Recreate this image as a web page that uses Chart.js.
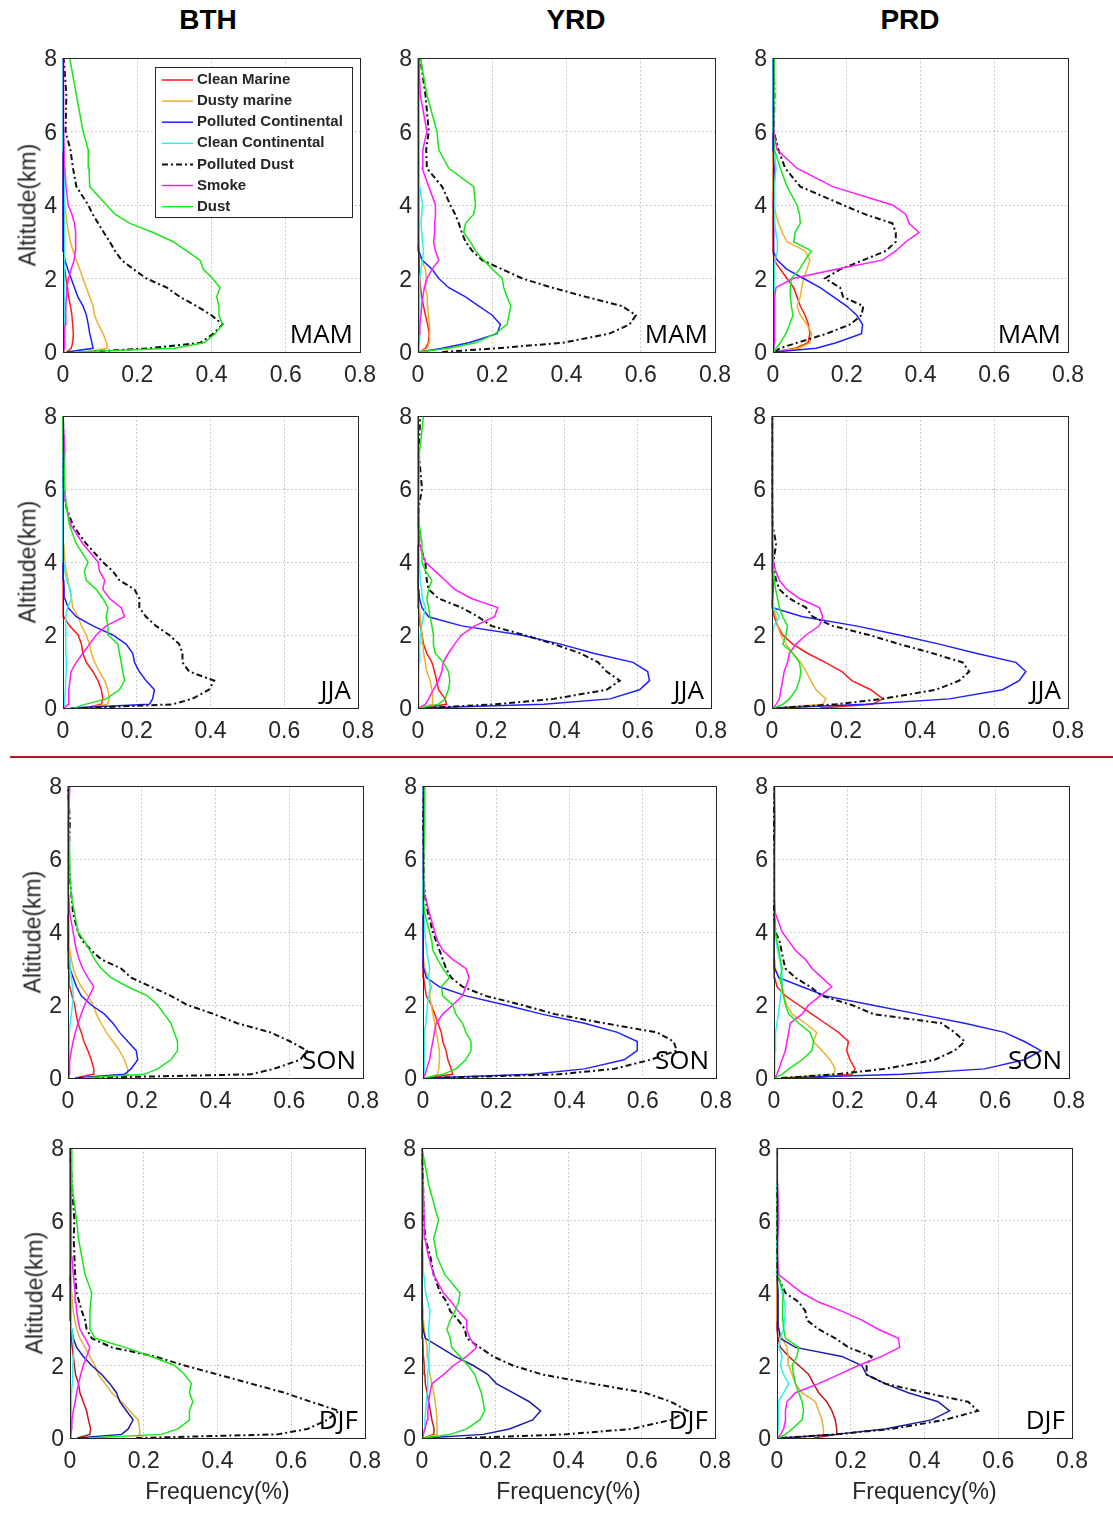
<!DOCTYPE html>
<html>
<head>
<meta charset="utf-8">
<title>Aerosol subtype vertical frequency</title>
<script src="https://cdn.jsdelivr.net/npm/chart.js@4.4.0/dist/chart.umd.min.js"></script>
<style>
  body { margin: 0; background: #fff; width: 1113px; height: 1517px; position: relative; overflow: hidden;
         font-family: "Liberation Sans", Arial, sans-serif; }
  canvas { position: absolute; }
  .title { position: absolute; font-weight: bold; font-size: 28px; color: #000; transform: translate(-50%, -50%); }
  .ylab { position: absolute; font-size: 23px; color: #262626; white-space: nowrap;
          transform: translate(-50%, -50%) rotate(-90deg); }
  .xlab { position: absolute; font-size: 23px; color: #262626; white-space: nowrap; transform: translate(-50%, -50%); }
  .divider { position: absolute; left: 10px; top: 756px; width: 1103px; height: 2px; background: #C0142E; }
</style>
</head>
<body>
<div id="page"></div>
<script>
const ALT = [0, 0.1, 0.25, 0.5, 0.75, 1, 1.25, 1.5, 1.75, 2, 2.25, 2.5, 2.75, 3, 3.25, 3.5, 3.75, 4, 4.5, 5, 5.5, 6, 7, 8];
const TYPES = ['Clean Marine', 'Dusty marine', 'Polluted Continental', 'Clean Continental', 'Polluted Dust', 'Smoke', 'Dust'];
const REGIONS = ['BTH', 'YRD', 'PRD'];
const SEASONS = ['MAM', 'JJA', 'SON', 'DJF'];
const X_TICKS = [0, 0.2, 0.4, 0.6, 0.8];
const Y_TICKS = [0, 2, 4, 6, 8];

// frequency (%) at each ALT level, one row per entry of TYPES
const BTH_MAM = [
  [0.01,0.022,0.026,0.028,0.026,0.024,0.02,0.015,0.012,0.008,0.005,0.003,0.002,0.001,0,0,0,0,0,0,0,0,0,0],
  [0.06,0.12,0.117,0.108,0.095,0.085,0.081,0.072,0.063,0.054,0.045,0.036,0.027,0.02,0.015,0.011,0.008,0.005,0.002,0.001,0,0,0,0],
  [0.01,0.081,0.078,0.072,0.068,0.063,0.054,0.04,0.031,0.022,0.013,0.005,0.002,0.001,0,0,0,0,0,0,0,0,0,0],
  [0.002,0.003,0.003,0.003,0.003,0.003,0.003,0.003,0.003,0.003,0.003,0.004,0.004,0.004,0.004,0.004,0.004,0.004,0.004,0.003,0.001,0,0,0],
  [0.06,0.23,0.37,0.405,0.43,0.40,0.36,0.315,0.28,0.225,0.19,0.158,0.14,0.126,0.11,0.095,0.08,0.068,0.036,0.027,0.02,0.007,0.009,0.002],
  [0.002,0.003,0.004,0.005,0.006,0.007,0.008,0.009,0.01,0.015,0.022,0.03,0.033,0.034,0.034,0.031,0.024,0.014,0.008,0.005,0.003,0.002,0.002,0.001],
  [0.03,0.3,0.38,0.41,0.43,0.42,0.42,0.414,0.423,0.403,0.378,0.369,0.333,0.297,0.243,0.18,0.14,0.117,0.072,0.07,0.068,0.054,0.036,0.018]
];
const YRD_MAM = [
  [0.005,0.02,0.028,0.03,0.026,0.02,0.015,0.01,0.007,0.005,0.004,0.003,0.002,0,0,0,0,0,0,0,0,0,0,0],
  [0.005,0.025,0.03,0.032,0.03,0.028,0.026,0.025,0.02,0.022,0.02,0.01,0.003,0.001,0,0,0,0,0,0,0,0,0,0],
  [0.005,0.065,0.137,0.213,0.222,0.2,0.164,0.128,0.083,0.056,0.038,0.011,0.002,0.002,0.002,0.002,0.002,0.002,0.002,0.002,0.002,0.002,0.002,0],
  [0.002,0.002,0.003,0.003,0.004,0.004,0.005,0.005,0.005,0.005,0.008,0.012,0.015,0.012,0.01,0.008,0.01,0.012,0.005,0.004,0.003,0.003,0.004,0],
  [0.065,0.21,0.39,0.515,0.57,0.587,0.55,0.452,0.362,0.281,0.227,0.173,0.146,0.128,0.118,0.11,0.1,0.087,0.065,0.024,0.022,0.029,0.02,0.006],
  [0.001,0.001,0.002,0.003,0.005,0.008,0.01,0.013,0.017,0.024,0.038,0.056,0.047,0.042,0.045,0.045,0.047,0.047,0.029,0.011,0.013,0.024,0.006,0.002],
  [0.005,0.083,0.155,0.209,0.24,0.245,0.25,0.24,0.231,0.227,0.2,0.177,0.155,0.141,0.123,0.128,0.15,0.155,0.15,0.083,0.056,0.051,0.024,0.006]
];
const PRD_MAM = [
  [0.002,0.06,0.095,0.1,0.096,0.087,0.074,0.065,0.056,0.038,0.02,0.003,0,0,0,0,0,0,0,0,0,0,0,0],
  [0.002,0.07,0.1,0.105,0.092,0.074,0.065,0.074,0.078,0.083,0.092,0.1,0.087,0.038,0.025,0.015,0.008,0.003,0,0,0,0,0,0],
  [0.005,0.117,0.171,0.24,0.243,0.227,0.2,0.164,0.128,0.083,0.038,0.011,0.001,0.001,0.002,0.002,0.002,0.002,0.003,0.003,0.001,0,0,0],
  [0.002,0.003,0.003,0.003,0.003,0.003,0.003,0.004,0.004,0.003,0.004,0.006,0.012,0.012,0.008,0.005,0.004,0.004,0.004,0.008,0.004,0.002,0.001,0],
  [0.005,0.018,0.065,0.146,0.209,0.24,0.245,0.19,0.182,0.141,0.182,0.245,0.306,0.333,0.333,0.324,0.249,0.19,0.074,0.033,0.015,0.002,0.004,0.002],
  [0.001,0.002,0.003,0.004,0.004,0.005,0.005,0.005,0.008,0.054,0.171,0.297,0.333,0.36,0.396,0.369,0.36,0.324,0.162,0.065,0.011,0.002,0.002,0.002],
  [0.003,0.008,0.02,0.035,0.045,0.054,0.05,0.047,0.047,0.05,0.072,0.087,0.104,0.056,0.06,0.074,0.072,0.065,0.038,0.02,0.004,0.001,0.003,0.003]
];
const BTH_JJA = [
  [0.06,0.104,0.108,0.104,0.095,0.081,0.063,0.054,0.05,0.041,0.018,0.002,0.001,0.001,0.001,0,0,0,0,0,0,0,0,0],
  [0.06,0.12,0.126,0.122,0.113,0.099,0.086,0.077,0.072,0.063,0.05,0.041,0.027,0.023,0.018,0.014,0.009,0.005,0.002,0,0,0,0,0],
  [0.02,0.234,0.243,0.248,0.225,0.207,0.194,0.189,0.171,0.135,0.081,0.036,0.014,0.005,0.003,0.002,0.001,0,0,0,0,0,0,0],
  [0.002,0.004,0.005,0.006,0.007,0.009,0.009,0.008,0.008,0.007,0.007,0.008,0.012,0.023,0.02,0.01,0.005,0.002,0.001,0,0,0,0,0],
  [0.05,0.297,0.35,0.396,0.41,0.342,0.324,0.324,0.315,0.288,0.252,0.225,0.207,0.207,0.194,0.153,0.135,0.108,0.063,0.027,0.009,0.002,0.002,0],
  [0.003,0.014,0.015,0.016,0.019,0.022,0.036,0.054,0.072,0.09,0.117,0.167,0.158,0.126,0.108,0.113,0.099,0.095,0.054,0.022,0.009,0.002,0.005,0],
  [0.03,0.06,0.117,0.153,0.167,0.162,0.158,0.153,0.149,0.122,0.122,0.117,0.122,0.108,0.09,0.063,0.058,0.068,0.036,0.018,0.009,0.005,0.002,0]
];
const YRD_JJA = [
  [0.01,0.078,0.074,0.056,0.051,0.045,0.038,0.024,0.015,0.011,0.006,0.004,0.002,0.001,0,0,0,0,0,0,0,0,0,0],
  [0.005,0.04,0.04,0.038,0.033,0.024,0.02,0.015,0.013,0.011,0.009,0.006,0.004,0.003,0.002,0.001,0,0,0,0,0,0,0,0],
  [0.01,0.344,0.524,0.605,0.632,0.627,0.587,0.479,0.389,0.281,0.119,0.029,0.011,0.004,0.002,0.002,0,0,0,0,0,0,0,0],
  [0.001,0.002,0.002,0.002,0.002,0.002,0.003,0.004,0.005,0.006,0.01,0.015,0.02,0.012,0.01,0.006,0.005,0.004,0.002,0,0,0,0,0],
  [0.02,0.209,0.371,0.515,0.551,0.515,0.492,0.443,0.371,0.29,0.2,0.164,0.119,0.056,0.029,0.024,0.022,0.02,0.004,0.002,0.002,0.011,0.002,0.006],
  [0.002,0.02,0.029,0.042,0.056,0.065,0.069,0.083,0.1,0.119,0.155,0.209,0.218,0.146,0.1,0.074,0.047,0.02,0.004,0.002,0.001,0.001,0.001,0.001],
  [0.005,0.056,0.074,0.083,0.087,0.083,0.069,0.047,0.042,0.042,0.038,0.033,0.029,0.024,0.029,0.038,0.02,0.011,0.011,0.004,0.002,0.002,0.004,0.015]
];
const PRD_JJA = [
  [0.13,0.27,0.3,0.267,0.216,0.189,0.144,0.096,0.056,0.029,0.015,0.006,0.001,0,0,0,0,0,0,0,0,0,0,0],
  [0.01,0.137,0.146,0.119,0.105,0.092,0.078,0.056,0.038,0.024,0.015,0.011,0.004,0.002,0,0,0,0,0,0,0,0,0,0],
  [0.01,0.254,0.479,0.623,0.668,0.686,0.659,0.551,0.452,0.344,0.227,0.083,0.002,0.002,0.003,0.003,0.001,0,0,0,0,0,0,0],
  [0.001,0.002,0.002,0.002,0.002,0.002,0.002,0.002,0.002,0.002,0.005,0.02,0.005,0.002,0.002,0.002,0.001,0.001,0,0,0,0,0,0],
  [0.01,0.173,0.299,0.443,0.506,0.533,0.515,0.434,0.344,0.263,0.164,0.11,0.092,0.047,0.02,0.011,0.006,0.004,0.011,0.002,0.001,0.001,0.001,0.001],
  [0.003,0.011,0.02,0.024,0.029,0.033,0.042,0.047,0.065,0.092,0.128,0.137,0.128,0.074,0.04,0.02,0.01,0.004,0.002,0.001,0.001,0.001,0.002,0],
  [0.005,0.029,0.047,0.065,0.074,0.078,0.074,0.056,0.029,0.038,0.042,0.029,0.02,0.015,0.01,0.006,0.004,0.002,0.002,0.002,0.002,0.002,0.002,0.002]
];
const BTH_SON = [
  [0.02,0.068,0.07,0.063,0.054,0.043,0.036,0.027,0.022,0.018,0.011,0.005,0.003,0.002,0.001,0,0,0,0,0,0,0,0,0],
  [0.03,0.162,0.162,0.153,0.14,0.122,0.104,0.09,0.077,0.068,0.054,0.036,0.023,0.014,0.009,0.005,0.002,0,0,0,0,0,0,0],
  [0.02,0.153,0.171,0.189,0.185,0.162,0.14,0.122,0.099,0.063,0.036,0.023,0.014,0.005,0.004,0.002,0.001,0,0,0,0,0,0,0],
  [0.001,0.002,0.003,0.003,0.003,0.003,0.004,0.006,0.009,0.012,0.015,0.012,0.009,0.006,0.005,0.004,0.003,0.003,0.002,0.001,0,0,0,0],
  [0.03,0.495,0.558,0.63,0.648,0.603,0.549,0.459,0.396,0.324,0.279,0.225,0.171,0.144,0.09,0.063,0.04,0.027,0.014,0.009,0.005,0.002,0.005,0],
  [0.002,0.003,0.004,0.005,0.009,0.014,0.02,0.027,0.036,0.045,0.058,0.07,0.054,0.04,0.03,0.023,0.018,0.014,0.005,0.002,0.001,0,0.002,0.005],
  [0.04,0.207,0.243,0.279,0.297,0.297,0.288,0.279,0.261,0.243,0.216,0.162,0.117,0.09,0.072,0.059,0.045,0.027,0.018,0.009,0.005,0.005,0.002,0.002]
];
const YRD_SON = [
  [0.01,0.081,0.077,0.068,0.063,0.054,0.05,0.041,0.032,0.023,0.009,0.005,0.002,0,0,0,0,0,0,0,0,0,0,0],
  [0.01,0.04,0.043,0.045,0.045,0.041,0.036,0.032,0.027,0.023,0.018,0.023,0.014,0.005,0.002,0,0,0,0,0,0,0,0,0],
  [0.01,0.297,0.441,0.549,0.585,0.585,0.531,0.441,0.324,0.225,0.117,0.045,0.009,0.002,0.001,0,0,0,0,0,0,0,0,0],
  [0.001,0.003,0.003,0.003,0.003,0.003,0.005,0.008,0.01,0.012,0.016,0.02,0.015,0.018,0.014,0.01,0.007,0.005,0.002,0,0,0,0,0],
  [0.02,0.369,0.522,0.621,0.693,0.684,0.639,0.495,0.36,0.27,0.171,0.108,0.077,0.063,0.054,0.045,0.036,0.027,0.014,0.005,0.002,0.002,0,0.002],
  [0.002,0.006,0.01,0.018,0.022,0.027,0.031,0.036,0.054,0.081,0.108,0.117,0.126,0.117,0.081,0.054,0.04,0.032,0.018,0.005,0.002,0.002,0,0.002],
  [0.005,0.054,0.09,0.117,0.131,0.131,0.117,0.108,0.09,0.081,0.054,0.05,0.072,0.054,0.04,0.027,0.024,0.018,0.005,0,0.002,0.002,0.005,0.005]
];
const PRD_SON = [
  [0.1,0.211,0.22,0.206,0.197,0.202,0.175,0.139,0.103,0.067,0.031,0.008,0.002,0,0,0,0,0,0,0,0,0,0,0],
  [0.02,0.161,0.166,0.152,0.13,0.107,0.116,0.085,0.049,0.035,0.026,0.022,0.013,0.004,0.002,0,0,0,0,0,0,0,0,0],
  [0.02,0.346,0.571,0.679,0.724,0.679,0.625,0.517,0.391,0.265,0.139,0.076,0.013,0.002,0.001,0.001,0,0,0,0,0,0,0,0],
  [0.001,0.002,0.002,0.002,0.003,0.003,0.005,0.008,0.012,0.015,0.018,0.022,0.022,0.02,0.015,0.01,0.006,0.004,0.001,0,0,0,0,0],
  [0.02,0.166,0.301,0.436,0.49,0.517,0.49,0.454,0.27,0.211,0.13,0.098,0.058,0.031,0.025,0.02,0.015,0.004,0,0,0,0,0,0],
  [0.002,0.008,0.013,0.022,0.031,0.035,0.04,0.044,0.076,0.094,0.125,0.157,0.13,0.103,0.085,0.058,0.04,0.022,0.004,0,0,0,0.003,0],
  [0.002,0.022,0.04,0.076,0.103,0.107,0.098,0.067,0.04,0.031,0.026,0.022,0.017,0.022,0.017,0.013,0.008,0.004,0.002,0.002,0.002,0.002,0.002,0.002]
];
const BTH_DJF = [
  [0.02,0.054,0.056,0.05,0.045,0.036,0.027,0.023,0.015,0.012,0.009,0.006,0.004,0.003,0.002,0,0,0,0,0,0,0,0,0],
  [0.18,0.189,0.189,0.185,0.162,0.14,0.113,0.095,0.077,0.068,0.054,0.041,0.027,0.018,0.013,0.009,0.006,0.005,0.003,0.002,0,0,0,0],
  [0.02,0.14,0.158,0.171,0.153,0.135,0.126,0.108,0.086,0.059,0.036,0.018,0.009,0.005,0.004,0.003,0.003,0.003,0,0,0,0,0,0],
  [0.002,0.003,0.003,0.003,0.004,0.004,0.005,0.006,0.007,0.008,0.009,0.01,0.008,0.005,0.004,0.004,0.003,0.003,0.002,0.002,0.001,0,0,0],
  [0.18,0.563,0.644,0.698,0.729,0.653,0.581,0.491,0.401,0.311,0.23,0.113,0.059,0.045,0.041,0.032,0.025,0.018,0.014,0.012,0.01,0.012,0.005,0],
  [0.001,0.002,0.003,0.005,0.009,0.014,0.018,0.023,0.029,0.036,0.045,0.054,0.041,0.027,0.022,0.018,0.016,0.014,0.009,0.005,0.003,0.003,0.003,0],
  [0.05,0.248,0.293,0.324,0.324,0.333,0.324,0.329,0.311,0.284,0.221,0.149,0.068,0.054,0.054,0.054,0.056,0.059,0.041,0.032,0.023,0.018,0.005,0.005]
];
const YRD_DJF = [
  [0.005,0.032,0.033,0.027,0.023,0.018,0.014,0.009,0.008,0.006,0.004,0.003,0.002,0,0,0,0,0,0,0,0,0,0,0],
  [0.005,0.041,0.041,0.041,0.039,0.036,0.032,0.027,0.022,0.018,0.016,0.014,0.01,0.006,0.004,0.003,0.001,0,0,0,0,0,0,0],
  [0.01,0.167,0.239,0.302,0.324,0.293,0.248,0.203,0.18,0.14,0.09,0.05,0.009,0.003,0.001,0.001,0,0,0,0,0,0,0,0],
  [0.002,0.004,0.006,0.008,0.01,0.012,0.014,0.015,0.016,0.018,0.019,0.02,0.02,0.018,0.02,0.022,0.016,0.01,0.005,0.003,0.001,0,0,0],
  [0.12,0.392,0.572,0.68,0.725,0.68,0.608,0.464,0.329,0.248,0.194,0.158,0.122,0.117,0.099,0.077,0.068,0.05,0.032,0.023,0.009,0.005,0.003,0],
  [0.002,0.004,0.008,0.014,0.016,0.018,0.022,0.027,0.059,0.086,0.122,0.149,0.131,0.122,0.122,0.099,0.08,0.059,0.032,0.018,0.008,0.006,0.003,0],
  [0.005,0.077,0.122,0.158,0.171,0.167,0.162,0.153,0.144,0.126,0.104,0.081,0.077,0.068,0.077,0.09,0.1,0.104,0.063,0.041,0.032,0.045,0.018,0]
];
const PRD_DJF = [
  [0.1,0.162,0.162,0.158,0.149,0.135,0.113,0.099,0.086,0.059,0.032,0.009,0.003,0,0,0,0,0,0,0,0,0,0,0],
  [0.06,0.126,0.126,0.122,0.113,0.104,0.068,0.05,0.041,0.032,0.03,0.027,0.014,0.005,0.002,0,0,0,0,0,0,0,0,0],
  [0.01,0.158,0.293,0.419,0.468,0.437,0.356,0.293,0.243,0.23,0.176,0.05,0.009,0.005,0.003,0.003,0.003,0.003,0,0,0,0,0,0],
  [0.002,0.002,0.003,0.003,0.004,0.004,0.018,0.032,0.018,0.009,0.014,0.005,0.009,0.018,0.02,0.023,0.02,0.014,0.002,0,0,0,0,0],
  [0.01,0.158,0.311,0.455,0.545,0.518,0.401,0.293,0.243,0.243,0.257,0.194,0.158,0.113,0.081,0.077,0.059,0.023,0,0,0,0,0,0],
  [0.002,0.01,0.018,0.023,0.023,0.027,0.05,0.113,0.167,0.221,0.284,0.333,0.329,0.275,0.23,0.176,0.113,0.068,0.005,0.002,0.002,0.005,0.002,0],
  [0.004,0.023,0.041,0.068,0.072,0.068,0.059,0.05,0.045,0.041,0.054,0.059,0.023,0.018,0.016,0.014,0.016,0.018,0.002,0.001,0.001,0.001,0.001,0.001]
];

const GRID = [
  [BTH_MAM, YRD_MAM, PRD_MAM],
  [BTH_JJA, YRD_JJA, PRD_JJA],
  [BTH_SON, YRD_SON, PRD_SON],
  [BTH_DJF, YRD_DJF, PRD_DJF]
];

// plot area of every panel: [left, top, right, bottom]
const FRAMES = [
  [[63, 58, 360, 352], [418, 58, 715, 352], [773, 58, 1068, 352]],
  [[63, 416, 358, 708], [418, 416, 711, 708], [772, 416, 1068, 708]],
  [[68, 786, 363, 1078], [423, 786, 716, 1078], [774, 786, 1069, 1078]],
  [[70, 1148, 365, 1438], [422, 1148, 715, 1438], [777, 1148, 1072, 1438]]
];
const TITLE_X = [208, 576, 910];

const LINE_STYLE = [
  { color: '#FF1A1A', width: 1.5 },
  { color: '#EDB12E', width: 1.5 },
  { color: '#1F1FFF', width: 1.5 },
  { color: '#2EF2F2', width: 1.5 },
  { color: '#111111', width: 2, dash: [6, 3, 2, 3] },
  { color: '#FF1AFF', width: 1.5 },
  { color: '#1AE61A', width: 1.5 }
];
// the winter row is drawn with deeper red/blue/orange
const DJF_COLORS = { 0: '#C41818', 1: '#E0B038', 2: '#1C1CA8' };

const PAD_L = 50, PAD_T = 14, PAD_R = 24, PAD_B = 40;
const TICK_FONT = { family: '"Liberation Sans", Arial, sans-serif', size: 23 };

Chart.defaults.font.family = '"Liberation Sans", Arial, sans-serif';

// box frame, season tag and the in-panel legend
const panelDecor = {
  id: 'panelDecor',
  afterDraw(chart, args, opts) {
    const { ctx, chartArea: a } = chart;
    ctx.save();
    ctx.strokeStyle = '#262626';
    ctx.lineWidth = 1;
    ctx.strokeRect(Math.round(a.left) + 0.5, Math.round(a.top) + 0.5,
                   Math.round(a.right - a.left), Math.round(a.bottom - a.top));

    ctx.fillStyle = '#000';
    ctx.font = '26px "Open Sans", "Noto Sans", sans-serif';
    ctx.textAlign = 'right';
    ctx.textBaseline = 'middle';
    ctx.fillText(opts.season, a.right - 7, a.bottom - 16);

    if (opts.legend) {
      const bx = a.left + 92, by = a.top + 9, bw = 197, bh = 150;
      ctx.fillStyle = '#fff';
      ctx.fillRect(bx, by, bw, bh);
      ctx.strokeStyle = '#262626';
      ctx.strokeRect(bx + 0.5, by + 0.5, bw, bh);
      ctx.font = 'bold 15px "Liberation Sans", Arial, sans-serif';
      ctx.textAlign = 'left';
      chart.data.datasets.forEach((ds, i) => {
        const y = by + 13 + i * 21.1;
        ctx.strokeStyle = ds.borderColor;
        ctx.lineWidth = ds.borderWidth;
        ctx.setLineDash(ds.borderDash || []);
        ctx.beginPath();
        ctx.moveTo(bx + 7, y);
        ctx.lineTo(bx + 38, y);
        ctx.stroke();
        ctx.setLineDash([]);
        ctx.fillStyle = '#262626';
        ctx.fillText(ds.label, bx + 42, y);
      });
    }
    ctx.restore();
  }
};

const page = document.getElementById('page');

function addText(cls, text, x, y) {
  const d = document.createElement('div');
  d.className = cls;
  d.textContent = text;
  d.style.left = x + 'px';
  d.style.top = y + 'px';
  page.appendChild(d);
}

GRID.forEach((row, r) => {
  row.forEach((series, c) => {
    const [L, T, R, B] = FRAMES[r][c];
    const canvas = document.createElement('canvas');
    const w = R - L + PAD_L + PAD_R, h = B - T + PAD_T + PAD_B;
    canvas.width = w;
    canvas.height = h;
    canvas.style.left = (L - PAD_L) + 'px';
    canvas.style.top = (T - PAD_T) + 'px';
    canvas.style.width = w + 'px';
    canvas.style.height = h + 'px';
    page.appendChild(canvas);

    const datasets = TYPES.map((name, i) => {
      const st = LINE_STYLE[i];
      const color = (r === 3 && DJF_COLORS[i]) ? DJF_COLORS[i] : st.color;
      return {
        label: name,
        data: ALT.map((alt, k) => ({ x: series[i][k], y: alt })),
        showLine: true,
        borderColor: color,
        backgroundColor: color,
        borderWidth: st.width,
        borderDash: st.dash || [],
        pointRadius: 0,
        tension: 0,
        clip: 4,
        order: -i
      };
    });

    new Chart(canvas, {
      type: 'scatter',
      data: { datasets },
      options: {
        responsive: false,
        animation: false,
        devicePixelRatio: 1,
        layout: { padding: { top: PAD_T, right: PAD_R, left: 0, bottom: 0 } },
        plugins: {
          legend: { display: false },
          tooltip: { enabled: false },
          panelDecor: { season: SEASONS[r], legend: r === 0 && c === 0 }
        },
        scales: {
          x: {
            type: 'linear', min: 0, max: 0.8,
            afterBuildTicks: s => { s.ticks = X_TICKS.map(v => ({ value: v })); },
            afterFit: s => { s.height = PAD_B; s.paddingLeft = 0; s.paddingRight = 0; },
            ticks: { font: TICK_FONT, color: '#262626', padding: 10,
                     callback: v => v === 0 ? '0' : v.toFixed(1) },
            grid: { color: '#bdbdbd', lineWidth: 1, drawTicks: false, borderDash: [1.5, 2.5] },
            border: { display: false, dash: [1.5, 2.5] }
          },
          y: {
            type: 'linear', min: 0, max: 8,
            afterBuildTicks: s => { s.ticks = Y_TICKS.map(v => ({ value: v })); },
            afterFit: s => { s.width = PAD_L; s.paddingTop = 0; s.paddingBottom = 0; },
            ticks: { font: TICK_FONT, color: '#262626', padding: 6, labelOffset: 2 },
            grid: { color: '#bdbdbd', lineWidth: 1, drawTicks: false, borderDash: [1.5, 2.5] },
            border: { display: false, dash: [1.5, 2.5] }
          }
        }
      },
      plugins: [panelDecor]
    });

    if (c === 0) addText('ylab', 'Altitude(km)', L - 35, (T + B) / 2);
    if (r === GRID.length - 1) addText('xlab', 'Frequency(%)', (L + R) / 2, 1491);
  });
});

REGIONS.forEach((name, c) => addText('title', name, TITLE_X[c], 20));

const divider = document.createElement('div');
divider.className = 'divider';
page.appendChild(divider);
</script>
</body>
</html>
